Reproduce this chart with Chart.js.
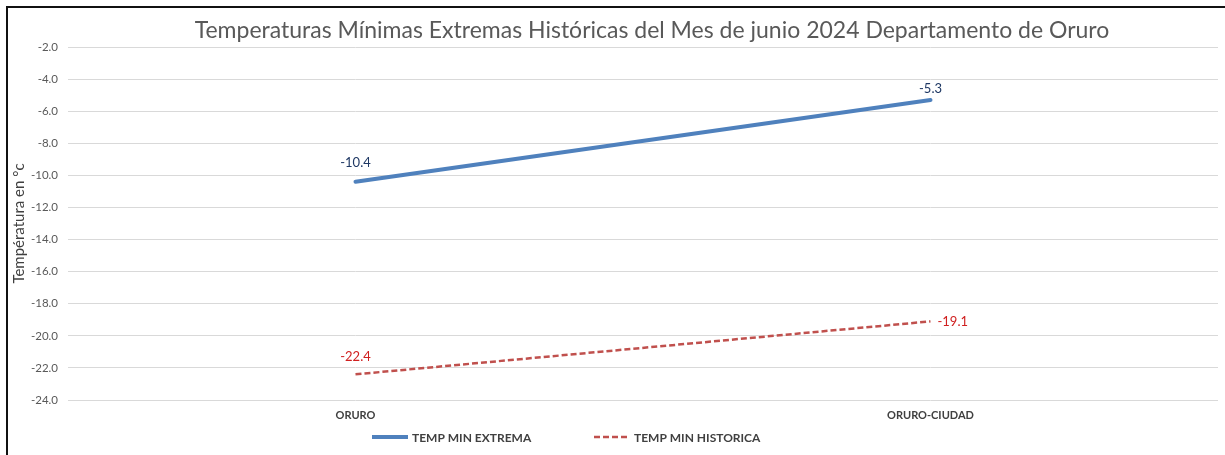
<!DOCTYPE html>
<html>
<head>
<meta charset="utf-8">
<script src="https://cdn.jsdelivr.net/npm/chart.js@4/dist/chart.umd.min.js"></script>
<style>
  html, body { margin: 0; padding: 0; background: #fff; }
  #wrap { width: 1225px; height: 455px; position: relative; }
</style>
</head>
<body>
<div id="wrap"><canvas id="tempChart"></canvas></div>
<script>
// Datos
const estaciones = ['ORURO', 'ORURO-CIUDAD'];
const tempMinExtrema = [-10.4, -5.3];
const tempMinHistorica = [-22.4, -19.1];
const yMin = -24, yMax = -2, yStep = 2;

const FONT = 'Lato, "Open Sans", sans-serif';

// etiquetas de datos y leyenda dibujadas a mano
const extrasPlugin = {
  id: 'extras',
  afterDraw(chart) {
    const ctx = chart.ctx;
    ctx.save();
    // marco
    ctx.strokeStyle = '#111';
    ctx.lineWidth = 2;
    ctx.beginPath();
    ctx.moveTo(7, 455);
    ctx.lineTo(7, 7);
    ctx.lineTo(1225, 7);
    ctx.stroke();

    // titulo
    ctx.fillStyle = '#595959';
    ctx.font = '23px ' + FONT;
    ctx.textAlign = 'center';
    ctx.textBaseline = 'middle';
    ctx.fillText('Temperaturas Mínimas Extremas Históricas del Mes de junio 2024 Departamento de Oruro', 652, 31);

    // etiquetas de datos
    ctx.font = '13px ' + FONT;
    const m0 = chart.getDatasetMeta(0).data;
    const m1 = chart.getDatasetMeta(1).data;
    ctx.fillStyle = '#1F3864';
    ctx.fillText(tempMinExtrema[0].toFixed(1), m0[0].x, m0[0].y - 19);
    ctx.fillText(tempMinExtrema[1].toFixed(1), m0[1].x, m0[1].y - 11);
    ctx.fillStyle = '#D02020';
    ctx.fillText(tempMinHistorica[0].toFixed(1), m1[0].x, m1[0].y - 18);
    ctx.textAlign = 'left';
    ctx.fillText(tempMinHistorica[1].toFixed(1), m1[1].x + 7, m1[1].y);

    // leyenda
    const items = [
      { ds: chart.data.datasets[0], x: 372 },
      { ds: chart.data.datasets[1], x: 594 }
    ];
    ctx.font = 'bold 12px ' + FONT;
    items.forEach(it => {
      const y = 437;
      ctx.strokeStyle = it.ds.borderColor;
      ctx.lineWidth = it.ds.borderWidth;
      ctx.setLineDash(it.ds.borderDash || []);
      ctx.beginPath();
      ctx.moveTo(it.x, y);
      ctx.lineTo(it.x + 36, y);
      ctx.stroke();
      ctx.setLineDash([]);
      ctx.fillStyle = '#404040';
      ctx.textAlign = 'left';
      ctx.fillText(it.ds.label, it.x + 40, y + 1);
    });
    ctx.restore();
  }
};

new Chart(document.getElementById('tempChart'), {
  type: 'line',
  data: {
    labels: estaciones,
    datasets: [{
      label: 'TEMP MIN EXTREMA',
      data: tempMinExtrema,
      borderColor: '#4F81BD',
      borderWidth: 4,
      borderCapStyle: 'round',
      pointRadius: 0,
      fill: false
    }, {
      label: 'TEMP MIN HISTORICA',
      data: tempMinHistorica,
      borderColor: '#C0504D',
      borderWidth: 2.5,
      borderDash: [6, 3],
      pointRadius: 0,
      fill: false
    }]
  },
  options: {
    responsive: true,
    maintainAspectRatio: false,
    animation: false,
    layout: { padding: { top: 47, right: 7, left: 0, bottom: 0 } },
    plugins: {
      legend: { display: false },
      title: { display: false },
      tooltip: { enabled: false }
    },
    scales: {
      x: {
        offset: true,
        grid: { display: false, drawTicks: false },
        border: { display: false },
        ticks: {
          color: '#404040',
          padding: 9,
          font: { family: FONT, size: 11, weight: 'bold' }
        },
        afterFit(scale) { scale.height = 55; }
      },
      y: {
        min: yMin,
        max: yMax,
        grid: { color: '#D9D9D9', lineWidth: 1, drawTicks: false },
        border: { display: false },
        ticks: {
          stepSize: yStep,
          padding: 10,
          color: '#595959',
          font: { family: FONT, size: 11.5 },
          callback: v => Number(v).toFixed(1)
        },
        title: {
          display: true,
          text: 'Températura en °c',
          color: '#404040',
          font: { family: FONT, size: 15 },
          padding: { top: 10, bottom: 0 }
        },
        afterFit(scale) { scale.width = 68; }
      }
    }
  },
  plugins: [extrasPlugin]
});
</script>
</body>
</html>
